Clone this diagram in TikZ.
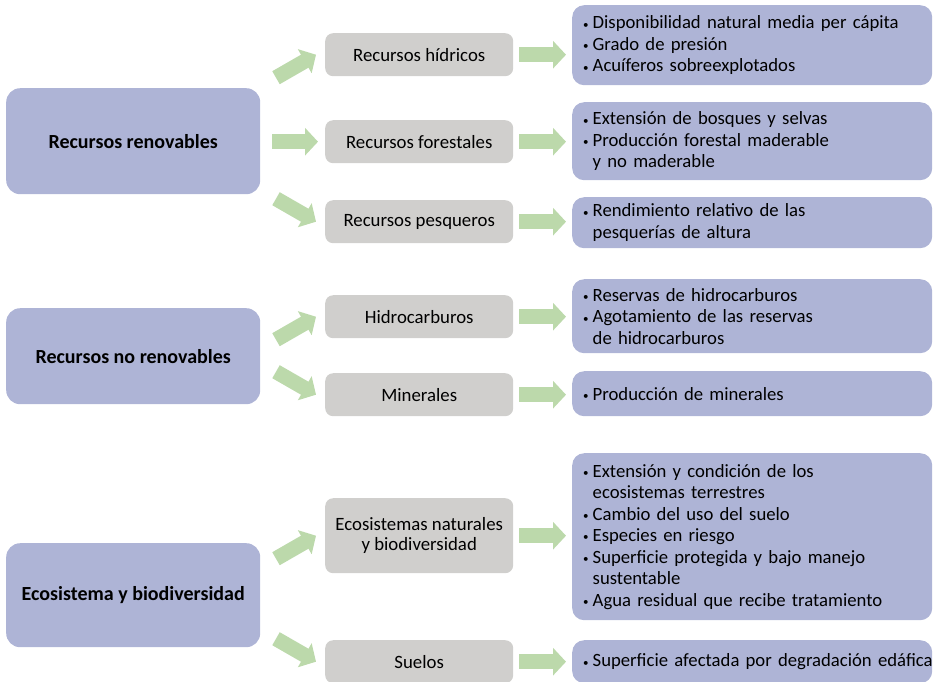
\documentclass[tikz,border=0pt]{standalone}
\usepackage{fontspec}
\setmainfont{Carlito}
\usepackage{xcolor}
\usepackage{tikz}
\usetikzlibrary{arrows.meta,calc,positioning}
\definecolor{lav}{RGB}{174,180,214}
\definecolor{gris}{RGB}{208,207,205}
\definecolor{verde}{RGB}{188,217,171}
\newcommand\vineta{\raisebox{0.6pt}{\fontsize{11}{11}\selectfont\textbullet}\hspace{4pt}}
\newcommand\sangria{\phantom{\vineta}}

\begin{document}
\begin{tikzpicture}[x=1pt,y=-1pt,
	cat/.style={fill=lav,rounded corners=14pt,minimum width=254pt,anchor=north west,font=\bfseries\fontsize{20}{22}\selectfont},
	sub/.style={fill=gris,rounded corners=8pt,minimum width=188pt,anchor=north west,align=center,font=\fontsize{18.8}{20.5}\selectfont},
	ind/.style={fill=lav,rounded corners=12pt,minimum width=360pt,text width=338pt,inner xsep=11pt,anchor=north west,align=left,font=\fontsize{18.7}{21.5}\selectfont},
	garrow/.style={verde,line width=15pt,-{Triangle[width=27pt,length=13pt]}}]
	\useasboundingbox (0,0) rectangle (933,681);
	\node[cat,minimum height=106pt] (renov) at (6,88) {Recursos renovables};
	\node[cat,minimum height=96pt] (norenov) at (6,308) {Recursos no renovables};
	\node[cat,minimum height=104pt] (ecosis) at (6,543) {Ecosistema y biodiversidad};
	\node[sub,minimum height=43pt] (hidricos) at (325,33) {Recursos hídricos};
	\node[sub,minimum height=43pt] (forestales) at (325,120) {Recursos forestales};
	\node[sub,minimum height=43pt] (pesqueros) at (325,200) {Recursos pesqueros};
	\node[sub,minimum height=43pt] (hidrocarb) at (325,295) {Hidrocarburos};
	\node[sub,minimum height=43pt] (minerales) at (325,373) {Minerales};
	\node[sub,minimum height=75pt] (econat) at (325,498) {Ecosistemas naturales\\y biodiversidad};
	\node[sub,minimum height=43pt] (suelos) at (325,640) {Suelos};
	\node[ind,minimum height=80pt] (ind1) at (572,5) {\vineta Disponibilidad natural media per cápita\\\vineta Grado de presión\\\vineta Acuíferos sobreexplotados};
	\node[ind,minimum height=78pt] (ind2) at (572,102) {\vineta Extensión de bosques y selvas\\\vineta Producción forestal maderable\\\sangria y no maderable};
	\node[ind,minimum height=51pt] (ind3) at (572,197) {\vineta Rendimiento relativo de las\\\sangria pesquerías de altura};
	\node[ind,minimum height=74pt] (ind4) at (572,279) {\vineta Reservas de hidrocarburos\\\vineta Agotamiento de las reservas\\\sangria de hidrocarburos};
	\node[ind,minimum height=45pt] (ind5) at (572,371) {\vineta Producción de minerales};
	\node[ind,minimum height=167pt] (ind6) at (572,453) {\vineta Extensión y condición de los\\\sangria ecosistemas terrestres\\\vineta Cambio del uso del suelo\\\vineta Especies en riesgo\\\vineta Superficie protegida y bajo manejo\\\sangria sustentable\\\vineta Agua residual que recibe tratamiento};
	\node[ind,minimum height=43pt] (ind7) at (572,640) {\mbox{\vineta Superficie afectada por degradación edáfica}};
	\draw[garrow] ($(hidricos.west)+(-49,23)$) -- ($(hidricos.west)+(-9,0)$);
	\draw[garrow] ($(forestales.west)+(-53,0)$) -- ($(forestales.west)+(-7,0)$);
	\draw[garrow] ($(pesqueros.west)+(-49,-23)$) -- ($(pesqueros.west)+(-9,0)$);
	\draw[garrow] ($(hidrocarb.west)+(-49,23)$) -- ($(hidrocarb.west)+(-9,0)$);
	\draw[garrow] ($(minerales.west)+(-49,-23)$) -- ($(minerales.west)+(-9,0)$);
	\draw[garrow] ($(econat.west)+(-49,23)$) -- ($(econat.west)+(-9,0)$);
	\draw[garrow] ($(suelos.west)+(-49,-23)$) -- ($(suelos.west)+(-9,0)$);
	\foreach \s/\i in {hidricos/ind1,forestales/ind2,pesqueros/ind3,hidrocarb/ind4,minerales/ind5,econat/ind6,suelos/ind7}
		\draw[garrow] ([xshift=6pt]\s.east) -- ($(\s.east -| \i.west)+(-6,0)$);
\end{tikzpicture}
\end{document}
